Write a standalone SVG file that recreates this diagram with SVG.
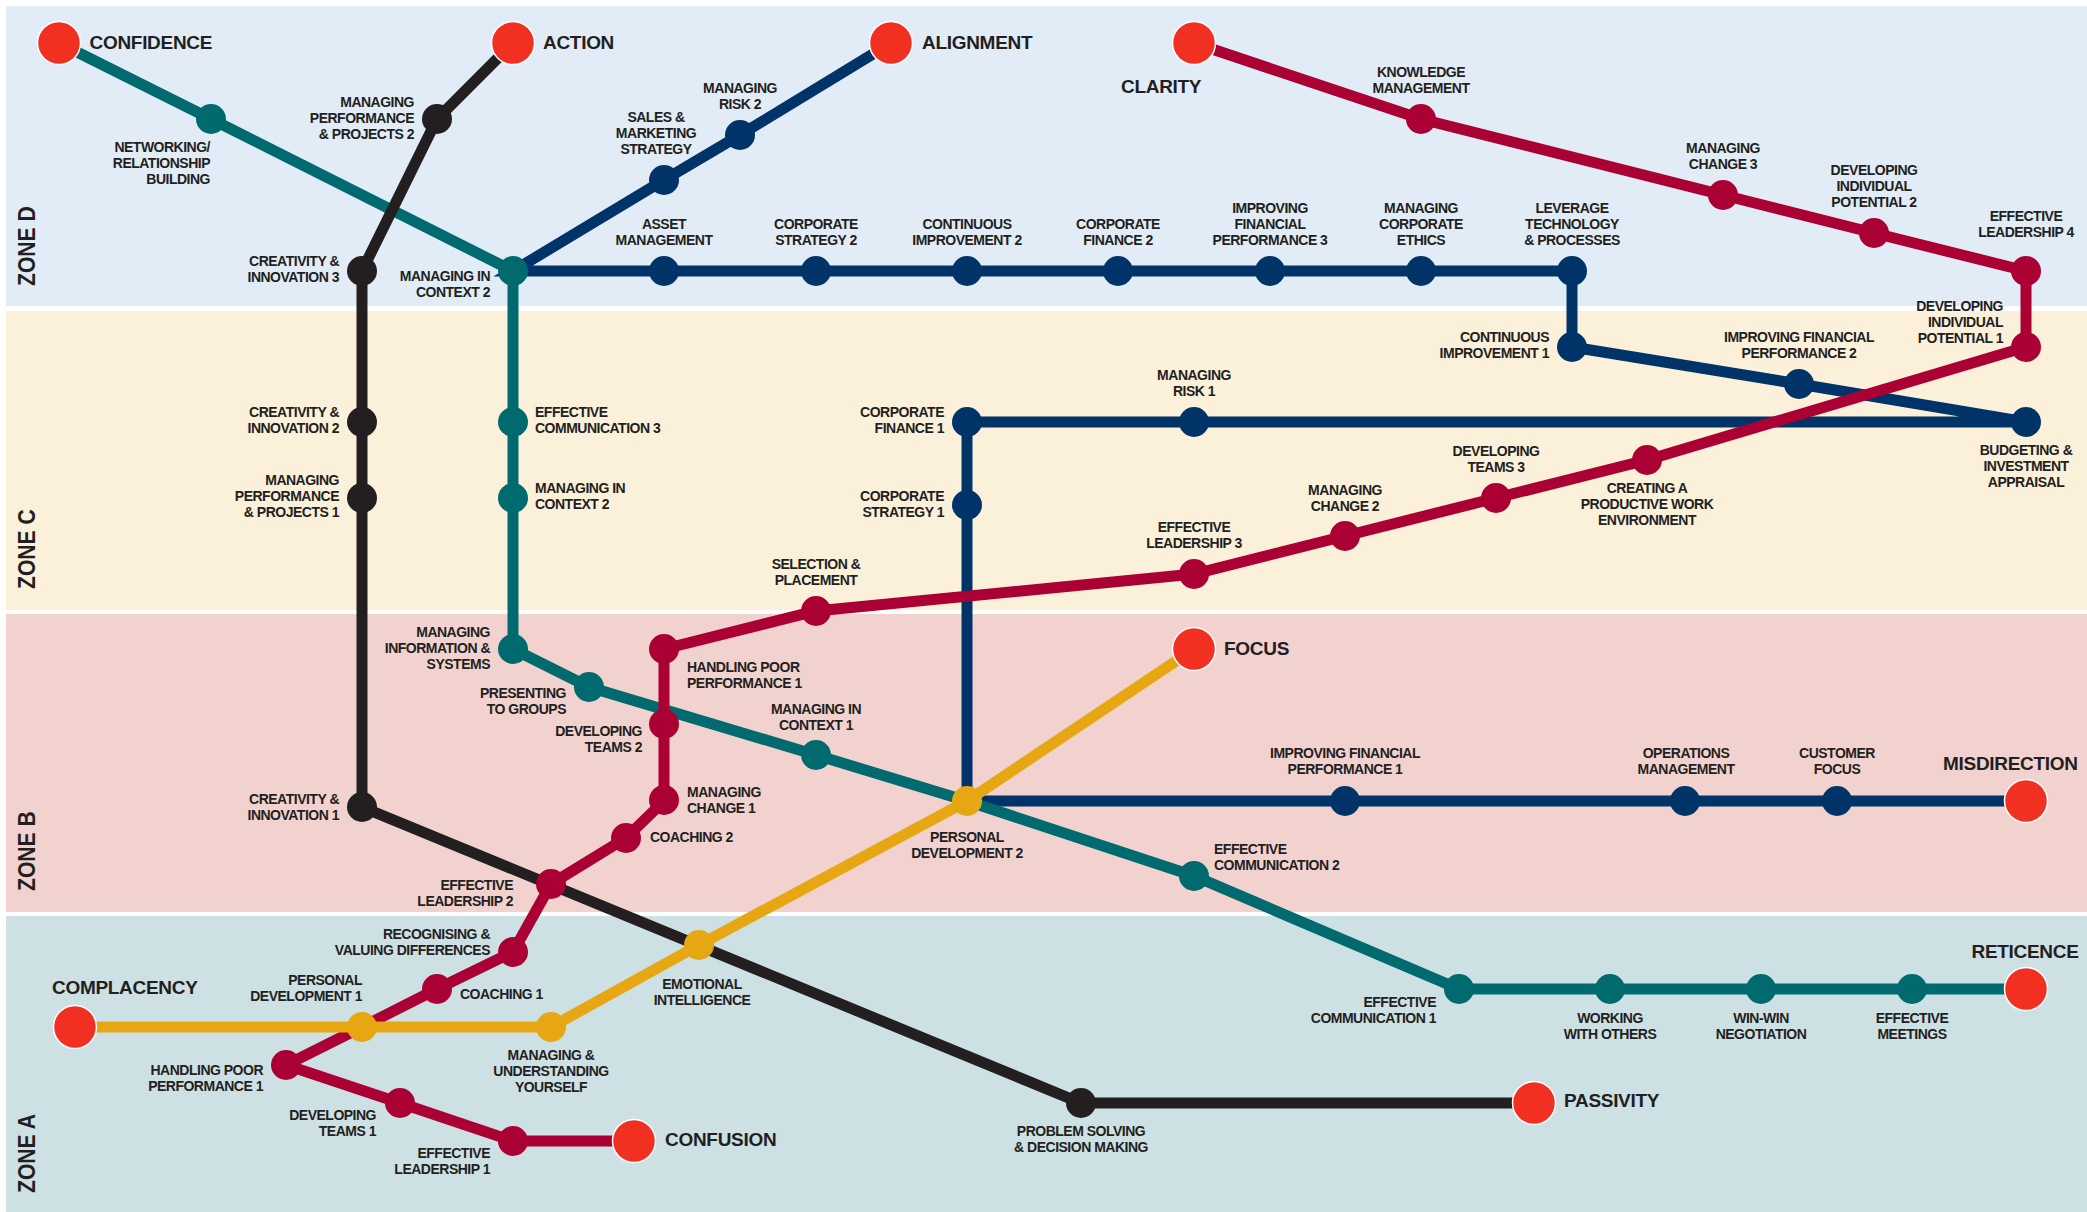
<svg xmlns="http://www.w3.org/2000/svg" width="2087" height="1212" viewBox="0 0 2087 1212">
<style>
.l{fill:none;stroke-width:11;stroke-linejoin:miter}
.n{stroke:none}
.t{fill:#f23022;stroke:#fff;stroke-width:1.5}
.navy{stroke:#003468}.teal{stroke:#006a6e}.black{stroke:#231f20}.crim{stroke:#ab0033}.yel{stroke:#e6a713}
.fnavy{fill:#003468}.fteal{fill:#006a6e}.fblack{fill:#231f20}.fcrim{fill:#ab0033}.fyel{fill:#e6a713}
text{font-family:"Liberation Sans",Arial,sans-serif;font-weight:700;fill:#231f20}
.s{font-size:14px;letter-spacing:-.5px}
.b{font-size:19px;letter-spacing:-.3px}
.z{font-size:23.5px}
.e{text-anchor:end}.m{text-anchor:middle}
</style>
<rect x="6" y="6" width="2081" height="300" fill="#e1ecf7"/>
<rect x="6" y="311" width="2081" height="299" fill="#fbf0da"/>
<rect x="6" y="614" width="2081" height="298" fill="#f1d2ce"/>
<rect x="6" y="916" width="2081" height="296" fill="#cde0e4"/>
<text class="z" transform="translate(35 286) rotate(-90) scale(.9 1)">ZONE D</text>
<text class="z" transform="translate(35 589) rotate(-90) scale(.9 1)">ZONE C</text>
<text class="z" transform="translate(35 891) rotate(-90) scale(.9 1)">ZONE B</text>
<text class="z" transform="translate(35 1193) rotate(-90) scale(.9 1)">ZONE A</text>
<g id="connectors">
<polyline class="l navy" points="891,43 740,135 664,180 513,271 1572,271 1572,347 1799,384 2026,422 967,422 967,801 2026,801"/>
<polyline class="l teal" points="59,43 211,119 513,271 513,649 589,687 816,755 967,801 1194,876 1459,989 2026,989"/>
<polyline class="l black" points="513,43 437,119 362,271 362,807 1081,1103 1534,1103"/>
<polyline class="l crim" points="1194,43 1421,119 1723,195 1874,233 2026,271 2026,347 1647,460 1496,498 1345,536 1194,574 816,611 664,649 664,801 626,838 551,884 513,952 437,989 362,1027 286,1065 400,1103 513,1141 634,1141"/>
<polyline class="l yel" points="75,1027 551,1027 699,945 967,801 1194,649"/>
</g>
<g id="n-networking"><circle class="n fteal" cx="211" cy="119" r="15"/><text class="s e"><tspan x="210" y="152">NETWORKING/</tspan><tspan x="210" y="168">RELATIONSHIP</tspan><tspan x="210" y="184">BUILDING</tspan></text></g>
<g id="n-mpp2"><circle class="n fblack" cx="437" cy="119" r="15"/><text class="s e"><tspan x="414" y="107">MANAGING</tspan><tspan x="414" y="123">PERFORMANCE</tspan><tspan x="414" y="139">&amp; PROJECTS 2</tspan></text></g>
<g id="n-ci3"><circle class="n fblack" cx="362" cy="271" r="15"/><text class="s e"><tspan x="339" y="266">CREATIVITY &amp;</tspan><tspan x="339" y="282">INNOVATION 3</tspan></text></g>
<g id="n-mic2b"><circle class="n fteal" cx="513" cy="271" r="15"/><text class="s e"><tspan x="490" y="281">MANAGING IN</tspan><tspan x="490" y="297">CONTEXT 2</tspan></text></g>
<g id="n-sales"><circle class="n fnavy" cx="664" cy="180" r="15"/><text class="s m"><tspan x="656" y="122">SALES &amp;</tspan><tspan x="656" y="138">MARKETING</tspan><tspan x="656" y="154">STRATEGY</tspan></text></g>
<g id="n-mr2"><circle class="n fnavy" cx="740" cy="135" r="15"/><text class="s m"><tspan x="740" y="93">MANAGING</tspan><tspan x="740" y="109">RISK 2</tspan></text></g>
<g id="n-asset"><circle class="n fnavy" cx="664" cy="271" r="15"/><text class="s m"><tspan x="664" y="229">ASSET</tspan><tspan x="664" y="245">MANAGEMENT</tspan></text></g>
<g id="n-cs2"><circle class="n fnavy" cx="816" cy="271" r="15"/><text class="s m"><tspan x="816" y="229">CORPORATE</tspan><tspan x="816" y="245">STRATEGY 2</tspan></text></g>
<g id="n-cimp2"><circle class="n fnavy" cx="967" cy="271" r="15"/><text class="s m"><tspan x="967" y="229">CONTINUOUS</tspan><tspan x="967" y="245">IMPROVEMENT 2</tspan></text></g>
<g id="n-cf2"><circle class="n fnavy" cx="1118" cy="271" r="15"/><text class="s m"><tspan x="1118" y="229">CORPORATE</tspan><tspan x="1118" y="245">FINANCE 2</tspan></text></g>
<g id="n-ifp3"><circle class="n fnavy" cx="1270" cy="271" r="15"/><text class="s m"><tspan x="1270" y="213">IMPROVING</tspan><tspan x="1270" y="229">FINANCIAL</tspan><tspan x="1270" y="245">PERFORMANCE 3</tspan></text></g>
<g id="n-ethics"><circle class="n fnavy" cx="1421" cy="271" r="15"/><text class="s m"><tspan x="1421" y="213">MANAGING</tspan><tspan x="1421" y="229">CORPORATE</tspan><tspan x="1421" y="245">ETHICS</tspan></text></g>
<g id="n-leverage"><circle class="n fnavy" cx="1572" cy="271" r="15"/><text class="s m"><tspan x="1572" y="213">LEVERAGE</tspan><tspan x="1572" y="229">TECHNOLOGY</tspan><tspan x="1572" y="245">&amp; PROCESSES</tspan></text></g>
<g id="n-cimp1"><circle class="n fnavy" cx="1572" cy="347" r="15"/><text class="s e"><tspan x="1549" y="342">CONTINUOUS</tspan><tspan x="1549" y="358">IMPROVEMENT 1</tspan></text></g>
<g id="n-ifp2"><circle class="n fnavy" cx="1799" cy="384" r="15"/><text class="s m"><tspan x="1799" y="342">IMPROVING FINANCIAL</tspan><tspan x="1799" y="358">PERFORMANCE 2</tspan></text></g>
<g id="n-budget"><circle class="n fnavy" cx="2026" cy="422" r="15"/><text class="s m"><tspan x="2026" y="455">BUDGETING &amp;</tspan><tspan x="2026" y="471">INVESTMENT</tspan><tspan x="2026" y="487">APPRAISAL</tspan></text></g>
<g id="n-mr1"><circle class="n fnavy" cx="1194" cy="422" r="15"/><text class="s m"><tspan x="1194" y="380">MANAGING</tspan><tspan x="1194" y="396">RISK 1</tspan></text></g>
<g id="n-cf1"><circle class="n fnavy" cx="967" cy="422" r="15"/><text class="s e"><tspan x="944" y="417">CORPORATE</tspan><tspan x="944" y="433">FINANCE 1</tspan></text></g>
<g id="n-cs1"><circle class="n fnavy" cx="967" cy="505" r="15"/><text class="s e"><tspan x="944" y="501">CORPORATE</tspan><tspan x="944" y="517">STRATEGY 1</tspan></text></g>
<g id="n-ifp1"><circle class="n fnavy" cx="1345" cy="801" r="15"/><text class="s m"><tspan x="1345" y="758">IMPROVING FINANCIAL</tspan><tspan x="1345" y="774">PERFORMANCE 1</tspan></text></g>
<g id="n-ops"><circle class="n fnavy" cx="1685" cy="801" r="15"/><text class="s m"><tspan x="1686" y="758">OPERATIONS</tspan><tspan x="1686" y="774">MANAGEMENT</tspan></text></g>
<g id="n-cust"><circle class="n fnavy" cx="1837" cy="801" r="15"/><text class="s m"><tspan x="1837" y="758">CUSTOMER</tspan><tspan x="1837" y="774">FOCUS</tspan></text></g>
<g id="n-ci2"><circle class="n fblack" cx="362" cy="422" r="15"/><text class="s e"><tspan x="339" y="417">CREATIVITY &amp;</tspan><tspan x="339" y="433">INNOVATION 2</tspan></text></g>
<g id="n-mpp1"><circle class="n fblack" cx="362" cy="498" r="15"/><text class="s e"><tspan x="339" y="485">MANAGING</tspan><tspan x="339" y="501">PERFORMANCE</tspan><tspan x="339" y="517">&amp; PROJECTS 1</tspan></text></g>
<g id="n-ci1"><circle class="n fblack" cx="362" cy="807" r="15"/><text class="s e"><tspan x="339" y="804">CREATIVITY &amp;</tspan><tspan x="339" y="820">INNOVATION 1</tspan></text></g>
<g id="n-psdm"><circle class="n fblack" cx="1081" cy="1103" r="15"/><text class="s m"><tspan x="1081" y="1136">PROBLEM SOLVING</tspan><tspan x="1081" y="1152">&amp; DECISION MAKING</tspan></text></g>
<g id="n-ec3"><circle class="n fteal" cx="513" cy="422" r="15"/><text class="s"><tspan x="535" y="417">EFFECTIVE</tspan><tspan x="535" y="433">COMMUNICATION 3</tspan></text></g>
<g id="n-mic2"><circle class="n fteal" cx="513" cy="498" r="15"/><text class="s"><tspan x="535" y="493">MANAGING IN</tspan><tspan x="535" y="509">CONTEXT 2</tspan></text></g>
<g id="n-mis"><circle class="n fteal" cx="513" cy="649" r="15"/><text class="s e"><tspan x="490" y="637">MANAGING</tspan><tspan x="490" y="653">INFORMATION &amp;</tspan><tspan x="490" y="669">SYSTEMS</tspan></text></g>
<g id="n-present"><circle class="n fteal" cx="589" cy="687" r="15"/><text class="s e"><tspan x="566" y="698">PRESENTING</tspan><tspan x="566" y="714">TO GROUPS</tspan></text></g>
<g id="n-mic1"><circle class="n fteal" cx="816" cy="755" r="15"/><text class="s m"><tspan x="816" y="714">MANAGING IN</tspan><tspan x="816" y="730">CONTEXT 1</tspan></text></g>
<g id="n-ec2"><circle class="n fteal" cx="1194" cy="876" r="15"/><text class="s"><tspan x="1214" y="854">EFFECTIVE</tspan><tspan x="1214" y="870">COMMUNICATION 2</tspan></text></g>
<g id="n-ec1"><circle class="n fteal" cx="1459" cy="989" r="15"/><text class="s e"><tspan x="1436" y="1007">EFFECTIVE</tspan><tspan x="1436" y="1023">COMMUNICATION 1</tspan></text></g>
<g id="n-wwo"><circle class="n fteal" cx="1610" cy="989" r="15"/><text class="s m"><tspan x="1610" y="1023">WORKING</tspan><tspan x="1610" y="1039">WITH OTHERS</tspan></text></g>
<g id="n-win"><circle class="n fteal" cx="1761" cy="989" r="15"/><text class="s m"><tspan x="1761" y="1023">WIN-WIN</tspan><tspan x="1761" y="1039">NEGOTIATION</tspan></text></g>
<g id="n-meet"><circle class="n fteal" cx="1912" cy="989" r="15"/><text class="s m"><tspan x="1912" y="1023">EFFECTIVE</tspan><tspan x="1912" y="1039">MEETINGS</tspan></text></g>
<g id="n-km"><circle class="n fcrim" cx="1421" cy="119" r="15"/><text class="s m"><tspan x="1421" y="77">KNOWLEDGE</tspan><tspan x="1421" y="93">MANAGEMENT</tspan></text></g>
<g id="n-mc3"><circle class="n fcrim" cx="1723" cy="195" r="15"/><text class="s m"><tspan x="1723" y="153">MANAGING</tspan><tspan x="1723" y="169">CHANGE 3</tspan></text></g>
<g id="n-dip2"><circle class="n fcrim" cx="1874" cy="233" r="15"/><text class="s m"><tspan x="1874" y="175">DEVELOPING</tspan><tspan x="1874" y="191">INDIVIDUAL</tspan><tspan x="1874" y="207">POTENTIAL 2</tspan></text></g>
<g id="n-el4"><circle class="n fcrim" cx="2026" cy="271" r="15"/><text class="s m"><tspan x="2026" y="221">EFFECTIVE</tspan><tspan x="2026" y="237">LEADERSHIP 4</tspan></text></g>
<g id="n-dip1"><circle class="n fcrim" cx="2026" cy="347" r="15"/><text class="s e"><tspan x="2003" y="311">DEVELOPING</tspan><tspan x="2003" y="327">INDIVIDUAL</tspan><tspan x="2003" y="343">POTENTIAL 1</tspan></text></g>
<g id="n-cpwe"><circle class="n fcrim" cx="1647" cy="460" r="15"/><text class="s m"><tspan x="1647" y="493">CREATING A</tspan><tspan x="1647" y="509">PRODUCTIVE WORK</tspan><tspan x="1647" y="525">ENVIRONMENT</tspan></text></g>
<g id="n-dt3"><circle class="n fcrim" cx="1496" cy="498" r="15"/><text class="s m"><tspan x="1496" y="456">DEVELOPING</tspan><tspan x="1496" y="472">TEAMS 3</tspan></text></g>
<g id="n-mc2"><circle class="n fcrim" cx="1345" cy="536" r="15"/><text class="s m"><tspan x="1345" y="495">MANAGING</tspan><tspan x="1345" y="511">CHANGE 2</tspan></text></g>
<g id="n-el3"><circle class="n fcrim" cx="1194" cy="574" r="15"/><text class="s m"><tspan x="1194" y="532">EFFECTIVE</tspan><tspan x="1194" y="548">LEADERSHIP 3</tspan></text></g>
<g id="n-sp"><circle class="n fcrim" cx="816" cy="611" r="15"/><text class="s m"><tspan x="816" y="569">SELECTION &amp;</tspan><tspan x="816" y="585">PLACEMENT</tspan></text></g>
<g id="n-hpp2"><circle class="n fcrim" cx="664" cy="649" r="15"/><text class="s"><tspan x="687" y="672">HANDLING POOR</tspan><tspan x="687" y="688">PERFORMANCE 1</tspan></text></g>
<g id="n-dt2"><circle class="n fcrim" cx="664" cy="724" r="15"/><text class="s e"><tspan x="642" y="736">DEVELOPING</tspan><tspan x="642" y="752">TEAMS 2</tspan></text></g>
<g id="n-mc1"><circle class="n fcrim" cx="664" cy="800" r="15"/><text class="s"><tspan x="687" y="797">MANAGING</tspan><tspan x="687" y="813">CHANGE 1</tspan></text></g>
<g id="n-c2"><circle class="n fcrim" cx="626" cy="838" r="15"/><text class="s" x="650" y="842">COACHING 2</text></g>
<g id="n-el2"><circle class="n fcrim" cx="551" cy="884" r="15"/><text class="s e"><tspan x="513" y="890">EFFECTIVE</tspan><tspan x="513" y="906">LEADERSHIP 2</tspan></text></g>
<g id="n-rvd"><circle class="n fcrim" cx="513" cy="952" r="15"/><text class="s e"><tspan x="490" y="939">RECOGNISING &amp;</tspan><tspan x="490" y="955">VALUING DIFFERENCES</tspan></text></g>
<g id="n-c1"><circle class="n fcrim" cx="437" cy="989" r="15"/><text class="s" x="460" y="999">COACHING 1</text></g>
<g id="n-hpp1"><circle class="n fcrim" cx="286" cy="1065" r="15"/><text class="s e"><tspan x="263" y="1075">HANDLING POOR</tspan><tspan x="263" y="1091">PERFORMANCE 1</tspan></text></g>
<g id="n-dt1"><circle class="n fcrim" cx="400" cy="1103" r="15"/><text class="s e"><tspan x="376" y="1120">DEVELOPING</tspan><tspan x="376" y="1136">TEAMS 1</tspan></text></g>
<g id="n-el1"><circle class="n fcrim" cx="513" cy="1141" r="15"/><text class="s e"><tspan x="490" y="1158">EFFECTIVE</tspan><tspan x="490" y="1174">LEADERSHIP 1</tspan></text></g>
<g id="n-pd1"><circle class="n fyel" cx="362" cy="1027" r="15"/><text class="s e"><tspan x="362" y="985">PERSONAL</tspan><tspan x="362" y="1001">DEVELOPMENT 1</tspan></text></g>
<g id="n-mu"><circle class="n fyel" cx="551" cy="1027" r="15"/><text class="s m"><tspan x="551" y="1060">MANAGING &amp;</tspan><tspan x="551" y="1076">UNDERSTANDING</tspan><tspan x="551" y="1092">YOURSELF</tspan></text></g>
<g id="n-ei"><circle class="n fyel" cx="699" cy="945" r="15"/><text class="s m"><tspan x="702" y="989">EMOTIONAL</tspan><tspan x="702" y="1005">INTELLIGENCE</tspan></text></g>
<g id="n-pd2"><circle class="n fyel" cx="967" cy="801" r="15"/><text class="s m"><tspan x="967" y="842">PERSONAL</tspan><tspan x="967" y="858">DEVELOPMENT 2</tspan></text></g>
<g id="t-confidence"><circle class="t" cx="59" cy="43" r="21.5"/><text class="b" x="89.5" y="49">CONFIDENCE</text></g>
<g id="t-action"><circle class="t" cx="513" cy="43" r="21.5"/><text class="b" x="543" y="49">ACTION</text></g>
<g id="t-alignment"><circle class="t" cx="891" cy="43" r="21.5"/><text class="b" x="922" y="49">ALIGNMENT</text></g>
<g id="t-clarity"><circle class="t" cx="1194" cy="43" r="21.5"/><text class="b" x="1121" y="93">CLARITY</text></g>
<g id="t-focus"><circle class="t" cx="1194" cy="649" r="21.5"/><text class="b" x="1224" y="655">FOCUS</text></g>
<g id="t-misdirection"><circle class="t" cx="2026" cy="801" r="21.5"/><text class="b" x="1943" y="770">MISDIRECTION</text></g>
<g id="t-reticence"><circle class="t" cx="2026" cy="989" r="21.5"/><text class="b" x="1971.5" y="958">RETICENCE</text></g>
<g id="t-passivity"><circle class="t" cx="1534" cy="1103" r="21.5"/><text class="b" x="1564" y="1107">PASSIVITY</text></g>
<g id="t-confusion"><circle class="t" cx="634" cy="1141" r="21.5"/><text class="b" x="665" y="1146">CONFUSION</text></g>
<g id="t-complacency"><circle class="t" cx="75" cy="1027" r="21.5"/><text class="b" x="52" y="994">COMPLACENCY</text></g>
</svg>
